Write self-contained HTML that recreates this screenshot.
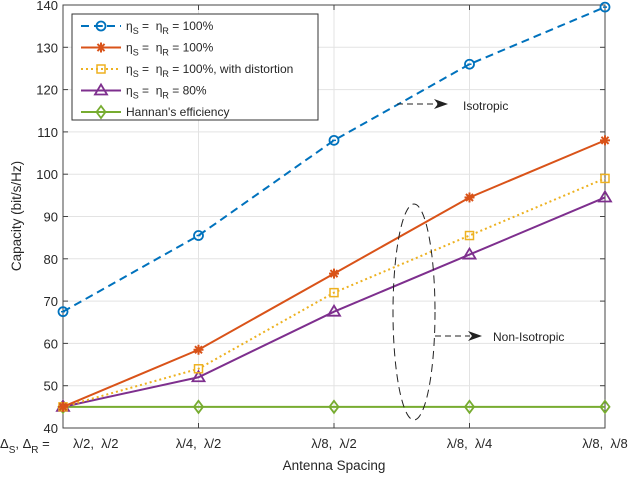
<!DOCTYPE html>
<html><head><meta charset="utf-8"><style>
body{margin:0;background:#fff}
text{font-family:"Liberation Sans",sans-serif;fill:#262626;white-space:pre}
</style></head><body>
<svg id="chart" width="630" height="476" viewBox="0 0 630 476" xmlns="http://www.w3.org/2000/svg">
<g id="grid"></g>
<g id="axes"></g>
<g id="series"></g>
<g stroke="#222" fill="none" stroke-width="1">
<ellipse cx="414" cy="312" rx="21" ry="108" stroke-dasharray="8,5"/>
<line x1="397" y1="104" x2="438" y2="104" stroke-dasharray="6,4"/>
<polygon points="448,104 434,99 438,104 434,109" fill="#222" stroke="none"/>
<line x1="435" y1="336" x2="470" y2="336" stroke-dasharray="6,4"/>
<polygon points="482,336 468,331 472,336 468,341" fill="#222" stroke="none"/>
</g>
<text x="463" y="110" font-size="12">Isotropic</text>
<text x="493" y="341" font-size="12">Non-Isotropic</text>
<g id="legend"></g>
</svg>
<script>
const categories=["λ/2,\u00a0\u00a0λ/2","λ/4,\u00a0\u00a0λ/2","λ/8,\u00a0\u00a0λ/2","λ/8,\u00a0\u00a0λ/4","λ/8,\u00a0\u00a0λ/8"];
const blueVals=[67.5,85.5,108,126,139.5];
const orangeVals=[45,58.5,76.5,94.5,108];
const yellowVals=[45,54,72,85.5,99];
const purpleVals=[45,52,67.5,81,94.5];
const greenVals=[45,45,45,45,45];
const yTicks=[40,50,60,70,80,90,100,110,120,130,140];
const L=63,R=605,T=5,B=428;
const NS="http://www.w3.org/2000/svg";
function xs(i){return L+i*(R-L)/(categories.length-1);}
function ys(v){return B-(v-40)/(140-40)*(B-T);}
function mk(tag,attrs,parent){const e=document.createElementNS(NS,tag);for(const k in attrs)e.setAttribute(k,attrs[k]);parent.appendChild(e);return e;}
const grid=document.getElementById('grid'),axes=document.getElementById('axes'),ser=document.getElementById('series'),leg=document.getElementById('legend');
yTicks.forEach(v=>{
 const l=mk('line',{x1:L,x2:R,y1:ys(v),y2:ys(v),stroke:'#e3e3e3','stroke-width':1},grid);
 
 
 mk('line',{x1:L,x2:L+5,y1:ys(v),y2:ys(v),stroke:'#444'},axes);
 mk('line',{x1:R,x2:R-5,y1:ys(v),y2:ys(v),stroke:'#444'},axes);
 const t=mk('text',{x:L-5,y:ys(v)+5,'text-anchor':'end','font-size':13},axes);
 t.textContent=v;
 
 
});
categories.forEach((c,i)=>{
 const l=mk('line',{x1:xs(i),x2:xs(i),y1:T,y2:B,stroke:'#e3e3e3'},grid);
 
 
 mk('line',{x1:xs(i),x2:xs(i),y1:B,y2:B-5,stroke:'#444'},axes);
 mk('line',{x1:xs(i),x2:xs(i),y1:T,y2:T+5,stroke:'#444'},axes);
 const first=i===0;
 const t=mk('text',{x:first?73:xs(i),y:B+20,'text-anchor':first?'start':'middle','font-size':13},axes);
 t.textContent=c;
 
 
});
mk('rect',{x:L,y:T,width:R-L,height:B-T,fill:'none',stroke:'#444'},axes);
const pre=mk('text',{x:0,y:B+20,'font-size':13},axes);


pre.innerHTML='Δ<tspan dy="5" font-size="10">S</tspan><tspan dy="-5">, Δ</tspan><tspan dy="5" font-size="10">R</tspan><tspan dy="-5"> =</tspan>';
const xt=mk('text',{x:334,y:470,'text-anchor':'middle','font-size':13.5},axes);
xt.textContent='Antenna Spacing';


const yt=mk('text',{x:21,y:216,'text-anchor':'middle','font-size':13.5,transform:'rotate(-90 21 216)'},axes);
yt.textContent='Capacity (bit/s/Hz)';


function marker(type,x,y,col,g){
 if(type==='o'){mk('circle',{cx:x,cy:y,r:4.5,fill:'none',stroke:col,'stroke-width':1.8},g);mk('line',{x1:x-2,x2:x+2,y1:y,y2:y,stroke:col,'stroke-width':1.5},g);}
 else if(type==='*'){for(let a=0;a<4;a++){const an=a*Math.PI/4;mk('line',{x1:x-5*Math.cos(an),y1:y-5*Math.sin(an),x2:x+5*Math.cos(an),y2:y+5*Math.sin(an),stroke:col,'stroke-width':2},g);}}
 else if(type==='s'){mk('rect',{x:x-4,y:y-4,width:8,height:8,fill:'none',stroke:col,'stroke-width':1.5},g);}
 else if(type==='^'){mk('polygon',{points:`${x},${y-6} ${x-6},${y+4} ${x+6},${y+4}`,fill:'none',stroke:col,'stroke-width':1.8},g);}
 else if(type==='d'){mk('polygon',{points:`${x},${y-6} ${x-4.5},${y} ${x},${y+6} ${x+4.5},${y}`,fill:'none',stroke:col,'stroke-width':1.8},g);}
}
const series=[
 {n:'series-green',v:greenVals,c:'#77ac30',m:'d',d:''},
 {n:'series-purple',v:purpleVals,c:'#7e2f8e',m:'^',d:''},
 {n:'series-yellow',v:yellowVals,c:'#edb120',m:'s',d:'2,3'},
 {n:'series-orange',v:orangeVals,c:'#d95319',m:'*',d:''},
 {n:'series-blue',v:blueVals,c:'#0072bd',m:'o',d:'8,5'}];
series.forEach(s=>{
 const g=mk('g',{},ser);
 
 
 mk('polyline',{points:s.v.map((v,i)=>xs(i)+','+ys(v)).join(' '),fill:'none',stroke:s.c,'stroke-width':2,'stroke-dasharray':s.d},g);
 s.v.forEach((v,i)=>marker(s.m,xs(i),ys(v),s.c,g));
});
mk('rect',{x:72,y:14,width:246,height:106,fill:'#fff',stroke:'#333'},leg);
const eta='η<tspan dy="4" font-size="9">S</tspan><tspan dy="-4"> =\u00a0\u00a0η</tspan><tspan dy="4" font-size="9">R</tspan><tspan dy="-4"> = ';
const entries=[
 {c:'#0072bd',m:'o',d:'8,5',t:eta+'100%</tspan>'},
 {c:'#d95319',m:'*',d:'',t:eta+'100%</tspan>'},
 {c:'#edb120',m:'s',d:'2,3',t:eta+'100%, with distortion</tspan>'},
 {c:'#7e2f8e',m:'^',d:'',t:eta+'80%</tspan>'},
 {c:'#77ac30',m:'d',d:'',t:"Hannan's efficiency"}];
entries.forEach((e,i)=>{
 const y=26+i*21.5;
 const g=mk('g',{},leg);
 
 
 mk('line',{x1:81,x2:121,y1:y,y2:y,stroke:e.c,'stroke-width':2,'stroke-dasharray':e.d},g);
 marker(e.m,101,y,e.c,g);
 const t=mk('text',{x:126,y:y+4,'font-size':12},g);
 t.innerHTML=e.t;
});
</script>
</body></html>
